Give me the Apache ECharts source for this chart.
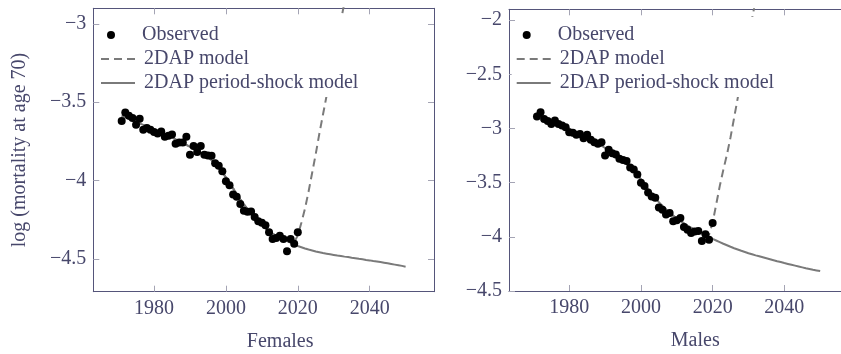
<!DOCTYPE html>
<html>
<head>
<meta charset="utf-8">
<script src="https://cdn.jsdelivr.net/npm/echarts@6/dist/echarts.min.js"></script>
<style>
  html, body { margin: 0; padding: 0; background: #ffffff; }
  #chart { width: 841px; height: 354px; }
</style>
</head>
<body>
<div id="chart"></div>
<script>
// Log mortality at age 70: observed rates, 2DAP fit and 2DAP period-shock fit with projections.
const obsYears = [];
for (let y = 1971; y <= 2020; y++) obsYears.push(y);
const fitYears = obsYears.slice();
const projYears = [];
for (let y = 2021; y <= 2050; y++) projYears.push(y);
const dashYears = [];
for (let y = 2019; y <= 2034; y++) dashYears.push(y);
const maleDashYears = [];
for (let y = 2019; y <= 2032; y++) maleDashYears.push(y);

const xTicks = [1980, 2000, 2020, 2040];
const femaleYTicks = [-4.5, -4, -3.5, -3];
const maleYTicks = [-4.5, -4, -3.5, -3, -2.5, -2];

// Females
const femaleObserved = [
  -3.62, -3.566, -3.587, -3.60, -3.644, -3.606, -3.676, -3.665, -3.676, -3.69,
  -3.70, -3.687, -3.72, -3.714, -3.706, -3.765, -3.757, -3.757, -3.72, -3.835,
  -3.78, -3.818, -3.78, -3.835, -3.84, -3.842, -3.89, -3.905, -3.94, -4.005,
  -4.03, -4.09, -4.103, -4.15, -4.193, -4.20, -4.197, -4.233, -4.26, -4.27,
  -4.286, -4.33, -4.373, -4.367, -4.352, -4.373, -4.452, -4.373, -4.403, -4.33
];
const femaleFit = [
  -3.585, -3.595, -3.605, -3.615, -3.625, -3.635, -3.645, -3.655, -3.665, -3.675,
  -3.685, -3.695, -3.705, -3.715, -3.725, -3.737, -3.748, -3.76, -3.772, -3.785,
  -3.797, -3.81, -3.823, -3.837, -3.852, -3.87, -3.892, -3.918, -3.948, -3.98,
  -4.015, -4.05, -4.085, -4.12, -4.152, -4.182, -4.21, -4.236, -4.26, -4.283,
  -4.304, -4.323, -4.34, -4.352, -4.36, -4.372, -4.385, -4.397, -4.408, -4.418
];
const femaleShockProj = [
  -4.426, -4.434, -4.441, -4.447, -4.453, -4.458, -4.463, -4.467, -4.471, -4.475,
  -4.479, -4.482, -4.486, -4.489, -4.493, -4.496, -4.5, -4.503, -4.507, -4.51,
  -4.514, -4.517, -4.521, -4.525, -4.529, -4.533, -4.537, -4.541, -4.545, -4.55
];
const femaleNoShockProj = [
  -4.395, -4.35, -4.27, -4.18, -4.07, -3.95, -3.83, -3.70, -3.58, -3.46,
  -3.34, -3.22, -3.10, -2.98, -2.86, -2.74
];

// Males
const maleObserved = [
  -2.89, -2.851, -2.912, -2.93, -2.958, -2.927, -2.958, -2.973, -2.989, -3.035,
  -3.04, -3.059, -3.05, -3.09, -3.059, -3.105, -3.127, -3.142, -3.127, -3.25,
  -3.197, -3.228, -3.24, -3.28, -3.29, -3.30, -3.36, -3.378, -3.425, -3.50,
  -3.53, -3.59, -3.627, -3.64, -3.73, -3.75, -3.795, -3.78, -3.857, -3.848,
  -3.827, -3.91, -3.934, -3.965, -3.95, -3.947, -4.039, -3.977, -4.026, -3.873
];
const maleFit = [
  -2.87, -2.885, -2.90, -2.915, -2.93, -2.945, -2.96, -2.975, -2.99, -3.005,
  -3.02, -3.036, -3.052, -3.068, -3.085, -3.102, -3.12, -3.139, -3.159, -3.18,
  -3.202, -3.225, -3.249, -3.274, -3.30, -3.328, -3.358, -3.39, -3.425, -3.47,
  -3.515, -3.56, -3.60, -3.64, -3.68, -3.715, -3.748, -3.778, -3.805, -3.83,
  -3.853, -3.875, -3.896, -3.916, -3.935, -3.953, -3.97, -3.987, -4.003, -4.019
];
const maleShockProj = [
  -4.034, -4.049, -4.064, -4.078, -4.092, -4.105, -4.117, -4.129, -4.14, -4.151,
  -4.161, -4.171, -4.18, -4.189, -4.198, -4.207, -4.216, -4.225, -4.233, -4.242,
  -4.25, -4.258, -4.266, -4.274, -4.282, -4.29, -4.297, -4.304, -4.31, -4.316
];
const maleNoShockProj = [
  -3.98, -3.87, -3.70, -3.53, -3.38, -3.24, -3.08, -2.90, -2.72, -2.54,
  -2.36, -2.17, -1.99, -1.81
];

const pairs = (xs, ys) => xs.map((x, i) => [x, ys[i]]);
const textColor = '#47476b';
const axisColor = '#55557a';
const tickColor = '#a4a4b4';
const lineGray = '#7a7a7a';
const fontFamily = '"Liberation Serif", "DejaVu Serif", serif';
const fmtNum = v => (v < 0 ? '\u2212' : '') + Math.abs(v);

const panels = [
  {
    left: 93.3, top: 8.3, width: 340.7, height: 283.4,
    xMin: 1963.1, xMax: 2057.9, yMin: -4.71, yMax: -2.9, yTicks: femaleYTicks,
    title: 'Females', yName: 'log (mortality at age 70)',
    observed: femaleObserved, fit: femaleFit, shockProj: femaleShockProj,
    noShockYears: dashYears, noShockProj: femaleNoShockProj
  },
  {
    left: 509, top: 9.3, width: 339.5, height: 281.7,
    xMin: 1963.2, xMax: 2057.9, yMin: -4.5, yMax: -1.9, yTicks: maleYTicks,
    title: 'Males', yName: '',
    observed: maleObserved, fit: maleFit, shockProj: maleShockProj,
    noShockYears: maleDashYears, noShockProj: maleNoShockProj
  }
];

const grid = [], xAxis = [], yAxis = [], series = [], legend = [];
panels.forEach((p, k) => {
  grid.push({
    left: p.left, top: p.top, width: p.width, height: p.height,
    containLabel: false, outerBoundsMode: 'none'
  });
  const baseLine = { show: true, lineStyle: { color: axisColor, width: 1 } };
  const tick = vals => ({ show: true, inside: true, length: 6, customValues: vals, lineStyle: { color: tickColor, width: 1 } });
  // bottom and top x axes
  xAxis.push({
    gridIndex: k, type: 'value', position: 'bottom', min: p.xMin, max: p.xMax,
    axisLine: baseLine, axisTick: tick(xTicks), splitLine: { show: false },
    axisLabel: { customValues: xTicks, margin: 7, color: textColor, fontFamily, fontSize: 20, formatter: v => String(v) },
    name: p.title, nameLocation: 'middle', nameGap: 40,
    nameTextStyle: { color: textColor, fontFamily, fontSize: 20, padding: [0, 0, 0, 33] }
  });
  xAxis.push({
    gridIndex: k, type: 'value', position: 'top', min: p.xMin, max: p.xMax,
    axisLine: baseLine, axisTick: tick(xTicks), splitLine: { show: false },
    axisLabel: { show: false }
  });
  // left and right y axes
  yAxis.push({
    gridIndex: k, type: 'value', position: 'left', min: p.yMin, max: p.yMax,
    axisLine: baseLine, axisTick: tick(p.yTicks), splitLine: { show: false },
    axisLabel: { customValues: p.yTicks, margin: 7, color: textColor, fontFamily, fontSize: 20, formatter: fmtNum },
    name: p.yName, nameLocation: 'middle', nameGap: 64,
    nameTextStyle: { color: textColor, fontFamily, fontSize: 20 }
  });
  yAxis.push({
    gridIndex: k, type: 'value', position: 'right', min: p.yMin, max: p.yMax,
    axisLine: baseLine, axisTick: tick(p.yTicks), splitLine: { show: false },
    axisLabel: { show: false }
  });

  const xi = k * 2, yi = k * 2;
  series.push({
    name: '2DAP model', type: 'line', xAxisIndex: xi, yAxisIndex: yi,
    data: pairs(fitYears, p.fit).slice(0, 48).concat(pairs(p.noShockYears, p.noShockProj)),
    symbol: 'none', showSymbol: false, z: 2, clip: true,
    lineStyle: { color: lineGray, width: 2, type: [8, 5] }, itemStyle: { color: lineGray }
  });
  series.push({
    name: '2DAP period-shock model', type: 'line', xAxisIndex: xi, yAxisIndex: yi,
    data: pairs(fitYears, p.fit).concat(pairs(projYears, p.shockProj)),
    symbol: 'none', showSymbol: false, z: 2,
    lineStyle: { color: lineGray, width: 2 }, itemStyle: { color: lineGray }
  });
  series.push({
    name: 'Observed', type: 'scatter', xAxisIndex: xi, yAxisIndex: yi,
    data: pairs(obsYears, p.observed), symbol: 'circle', symbolSize: 8, z: 3,
    itemStyle: { color: '#000000', opacity: 1 }
  });

  const lx = p.left + 2.7;
  // white legend box hides the part of the projection running behind it
  legend.push({
    data: ['Observed'], left: lx + 7, top: 17, orient: 'vertical', selectedMode: false,
    itemWidth: 22, itemHeight: 8, backgroundColor: '#ffffff', padding: [8, 0, 4, 4],
    textStyle: { color: textColor, fontFamily, fontSize: 20, lineHeight: 20, padding: [0, 150, 0, 15] }
  });
  legend.push({
    data: ['2DAP model', '2DAP period-shock model'], left: lx, top: 45, orient: 'vertical',
    selectedMode: false, itemWidth: 34, itemHeight: 14, itemGap: 4,
    backgroundColor: '#ffffff', padding: [4, 14, 4, 4],
    itemStyle: { color: 'rgba(0,0,0,0)', borderColor: 'rgba(0,0,0,0)', borderWidth: 0 },
    textStyle: { color: textColor, fontFamily, fontSize: 20, lineHeight: 20, padding: [0, 0, 0, 4] }
  });
});

const chart = echarts.init(document.getElementById('chart'), null, { renderer: 'canvas' });
chart.setOption({
  animation: false,
  backgroundColor: '#ffffff',
  grid, xAxis, yAxis, series, legend
});
</script>
</body>
</html>
